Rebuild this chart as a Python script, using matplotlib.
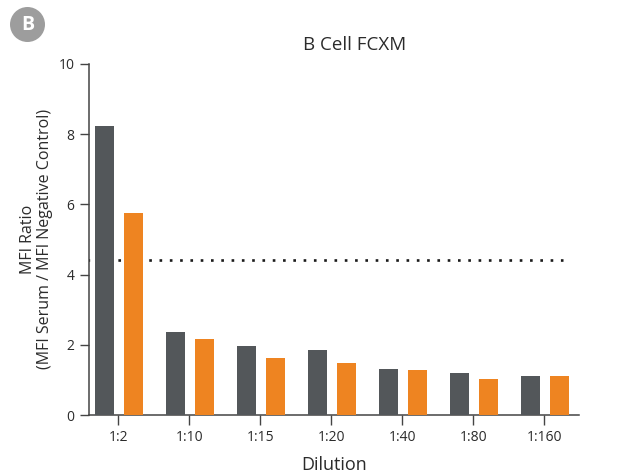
import numpy as np
import matplotlib
matplotlib.use("Agg")
import matplotlib.pyplot as plt
from matplotlib.patches import Ellipse

plt.rcParams['font.family'] = ['Open Sans', 'DejaVu Sans']

# data
dilutions = ['1:2', '1:10', '1:15', '1:20', '1:40', '1:80', '1:160']
gray_vals = [8.22, 2.37, 1.97, 1.86, 1.31, 1.20, 1.11]
orange_vals = [5.74, 2.17, 1.63, 1.49, 1.28, 1.03, 1.11]
cutoff = 4.41
yticks = [0, 2, 4, 6, 8, 10]

GRAY = '#53575a'
ORANGE = '#ee8421'
TXT = '#2b2b2b'

W, H = 622, 476
fig = plt.figure(figsize=(W / 100, H / 100), dpi=100)
ax = fig.add_axes([0.143, 0.128, 0.788, 0.738])

x = np.arange(len(dilutions))
w = 0.27
ax.bar(x - 0.19, gray_vals, width=w, color=GRAY, zorder=3)
ax.bar(x + 0.21, orange_vals, width=w, color=ORANGE, zorder=3)

ax.hlines(cutoff, -0.44, 6.27, colors='#1a1a1a', linewidth=1.9,
          linestyles=(0, (1, 2.9)), zorder=1)

ax.set_xlim(-0.413, 6.49)
ax.set_ylim(0, 10)
ax.set_yticks(yticks)
ax.set_xticks(x)
ax.set_xticklabels(dilutions)

for s in ['top', 'right']:
    ax.spines[s].set_visible(False)
for s in ['left', 'bottom']:
    ax.spines[s].set_color('#444444')
    ax.spines[s].set_linewidth(1.1)

ax.tick_params(axis='y', direction='out', length=6.5, width=1.0,
               colors='#444444', labelcolor=TXT, labelsize=10, pad=4)
ax.tick_params(axis='x', direction='out', length=7, width=1.0,
               colors='#444444', labelcolor=TXT, labelsize=10, pad=4)

ax.set_xlabel('Dilution', fontsize=13, color=TXT, labelpad=8)
ax.set_ylabel('MFI Ratio\n(MFI Serum / MFI Negative Control)', fontsize=11.5,
              color=TXT, labelpad=4, linespacing=1.1)
fig.text(355 / W, 1 - 45 / H, 'B Cell FCXM', ha='center', va='center',
         fontsize=13.5, color=TXT)

# panel badge
badge = Ellipse((27.5 / W, 1 - 24.5 / H), 35 / W, 35 / H, transform=fig.transFigure,
                facecolor='#9d9d9d', edgecolor='none')
fig.patches.append(badge)
fig.text(27.5 / W, 1 - 24.5 / H, 'B', ha='center', va='center',
         fontsize=14, fontweight='bold', color='white')

fig.savefig('out.png', dpi=100)
